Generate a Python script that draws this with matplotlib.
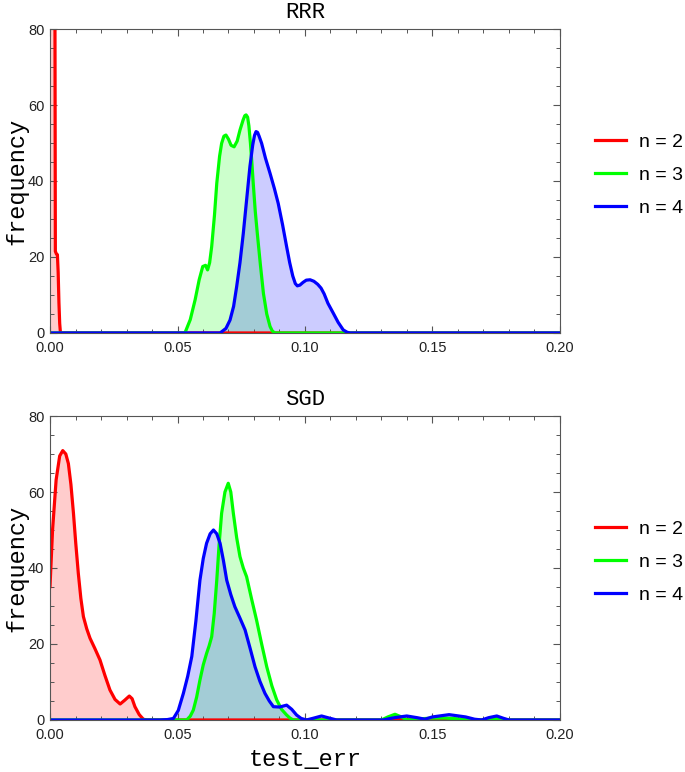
import matplotlib
matplotlib.use("Agg")
import matplotlib.pyplot as plt
from matplotlib.ticker import MultipleLocator

# RRR panel, density curves
rrr_x2 = [0.0, 0.0004, 0.0012, 0.0019, 0.0021, 0.0025, 0.0029, 0.0032, 0.0035, 0.0038, 0.0041, 0.2]
rrr_y2 = [100, 120, 120, 100, 21.5, 20.8, 20.6, 16, 8, 2.5, 0, 0]

rrr_x3 = [0.0, 0.0529, 0.0550, 0.0569, 0.0585, 0.0599, 0.0610, 0.0618, 0.0626, 0.0634, 0.0645,
          0.0654, 0.0665, 0.0673, 0.0682, 0.0690, 0.0700, 0.0710, 0.0722, 0.0734, 0.0745, 0.0757,
          0.0764, 0.0769, 0.0775, 0.0780, 0.0786, 0.0792, 0.0797, 0.0805, 0.0813, 0.0825, 0.0837,
          0.0850, 0.0863, 0.0872, 0.0882, 0.2]
rrr_y3 = [0, 0, 3.5, 8.7, 14, 17.5, 17.8, 16.6, 18.5, 22.7, 31, 39.4, 46.5, 49.9, 51.8, 52.1, 51,
          49.4, 49, 50.5, 53.4, 56, 57.2, 57.4, 56.8, 54.5, 50, 44.5, 39.4, 32, 26.2, 18, 10.4, 5,
          1.7, 0.5, 0, 0]

rrr_x4 = [0.0, 0.0667, 0.0690, 0.0706, 0.0720, 0.0732, 0.0745, 0.0758, 0.0771, 0.0784, 0.0795,
          0.0802, 0.0808, 0.0814, 0.0820, 0.0830, 0.0845, 0.0863, 0.0880, 0.0895, 0.0912, 0.0928,
          0.0940, 0.0952, 0.0962, 0.0970, 0.0980, 0.0992, 0.1005, 0.1020, 0.1035, 0.1050, 0.1063,
          0.1075, 0.1090, 0.1111, 0.1130, 0.1150, 0.1165, 0.1176, 0.2]
rrr_y4 = [0, 0, 1.2, 3.4, 7, 12.2, 18.5, 26.2, 35, 43.8, 49.5, 52, 53, 52.8, 51.8, 49.9, 46, 42,
          38, 34.1, 28.5, 22.7, 18.5, 15, 13, 12.4, 12.6, 13.3, 13.9, 14, 13.6, 12.8, 11.8, 10.3,
          7.8, 5.2, 2.8, 0.8, 0.2, 0, 0]

# SGD panel
sgd_x2 = [0.0, 0.0010, 0.0024, 0.0038, 0.0050, 0.0062, 0.0072, 0.0082, 0.0092, 0.0101, 0.0111,
          0.0121, 0.0131, 0.0144, 0.0157, 0.0176, 0.0196, 0.0215, 0.0235, 0.0255, 0.0275, 0.0293,
          0.0311, 0.0322, 0.0333, 0.0350, 0.0366, 0.0380, 0.1330, 0.1380, 0.1430, 0.2]
sgd_y2 = [35.1, 50, 63.2, 69.5, 70.9, 70, 67.5, 62, 54.4, 46.5, 38.6, 32, 27.2, 24, 21.5, 18.8,
          15.8, 11.8, 7.9, 5.4, 4.2, 5.2, 6.3, 5.6, 3.5, 1.4, 0.2, 0, 0, 0.3, 0, 0]

sgd_x3 = [0.0, 0.0536, 0.0550, 0.0562, 0.0575, 0.0588, 0.0601, 0.0614, 0.0624, 0.0634, 0.0644,
          0.0654, 0.0663, 0.0673, 0.0686, 0.0699, 0.0709, 0.0719, 0.0732, 0.0745, 0.0758, 0.0771,
          0.0790, 0.0810, 0.0830, 0.0850, 0.0870, 0.0889, 0.0908, 0.0928, 0.0941, 0.0954, 0.1300,
          0.1325, 0.1353, 0.1378, 0.1400, 0.1450, 0.1500, 0.1550, 0.1600, 0.1650, 0.1700, 0.1750,
          0.1800, 0.2]
sgd_y3 = [0, 0, 1.0, 2.6, 6, 10.5, 14.5, 17.5, 19.5, 21.9, 28, 36.8, 46, 54.4, 60, 62.3, 60,
          54.4, 48, 43, 40, 37.7, 32, 26.3, 20, 14, 9, 5.3, 2.8, 1.3, 0.5, 0, 0, 0.8, 1.5, 0.8, 0,
          0.3, 0.5, 0.5, 0.3, 0, 0, 0.4, 0, 0]

sgd_x4 = [0.0, 0.0431, 0.0460, 0.0484, 0.0503, 0.0523, 0.0540, 0.0556, 0.0572, 0.0588, 0.0601,
          0.0614, 0.0628, 0.0641, 0.0654, 0.0667, 0.0680, 0.0693, 0.0709, 0.0725, 0.0745, 0.0765,
          0.0785, 0.0804, 0.0823, 0.0843, 0.0860, 0.0876, 0.0900, 0.0928, 0.0948, 0.0967, 0.0985,
          0.1006, 0.1035, 0.1065, 0.1095, 0.1124, 0.1306, 0.1350, 0.1399, 0.1440, 0.1470, 0.1500,
          0.1565, 0.1630, 0.1665, 0.1693, 0.1720, 0.1752, 0.1780, 0.1800, 0.2]
sgd_y4 = [0, 0, 0.1, 0.4, 2.5, 7, 11.5, 16.7, 26, 36.8, 42.5, 46.5, 49, 50, 49, 46.5, 42, 36.8,
          33, 29.8, 26.8, 23.7, 18.8, 14, 10.2, 7, 5, 3.5, 3.4, 3.9, 2.8, 1.3, 0.4, 0, 0.5, 1.05,
          0.5, 0, 0, 0.6, 1.05, 0.6, 0.2, 0.8, 1.4, 0.8, 0.2, 0, 0.6, 1.05, 0.4, 0, 0]

labels = ["n = 2", "n = 3", "n = 4"]
colors = ["#ff0000", "#00ff00", "#0000ff"]

mono = "Liberation Mono"
sans = "Liberation Sans"

fig = plt.figure(figsize=(6.85, 7.72), dpi=100)
ax1 = fig.add_axes([0.073, 0.5687, 0.7445, 0.3937])
ax2 = fig.add_axes([0.073, 0.0674, 0.7445, 0.3937])

panels = [
    (ax1, "RRR", [(rrr_x2, rrr_y2), (rrr_x3, rrr_y3), (rrr_x4, rrr_y4)]),
    (ax2, "SGD", [(sgd_x2, sgd_y2), (sgd_x3, sgd_y3), (sgd_x4, sgd_y4)]),
]

for ax, title, series in panels:
    for (xs, ys), c, lab in zip(series, colors, labels):
        ax.fill_between(xs, ys, 0, color=c, alpha=0.2, linewidth=0)
        ax.plot(xs, ys, color=c, lw=2.3, label=lab, solid_joinstyle="round")
    ax.set_xlim(0, 0.2)
    ax.set_ylim(0, 80)
    ax.xaxis.set_major_locator(MultipleLocator(0.05))
    ax.xaxis.set_minor_locator(MultipleLocator(0.01))
    ax.yaxis.set_major_locator(MultipleLocator(20))
    ax.yaxis.set_minor_locator(MultipleLocator(5))
    ax.xaxis.set_major_formatter(plt.FuncFormatter(lambda v, p: "%.2f" % v))
    ax.tick_params(which="both", direction="in", top=True, right=True,
                   color="#555555", labelsize=10.5, labelcolor="#222222")
    ax.tick_params(axis="x", pad=6)
    ax.tick_params(axis="y", pad=4)
    ax.tick_params(which="major", length=5, width=0.8)
    ax.tick_params(which="minor", length=3, width=0.7)
    for lbl in ax.get_xticklabels() + ax.get_yticklabels():
        lbl.set_fontfamily(sans)
    for sp in ax.spines.values():
        sp.set_color("#555555")
        sp.set_linewidth(0.8)
    ax.set_title(title, fontfamily=mono, fontsize=16, pad=8)
    ax.set_ylabel("frequency", fontfamily=mono, fontsize=17, labelpad=0)
    leg = ax.legend(loc="center left", bbox_to_anchor=(1.035, 0.52), frameon=False,
                    prop={"family": sans, "size": 14}, handlelength=1.6,
                    labelspacing=0.8, handletextpad=0.65)

ax2.set_xlabel("test_err", fontfamily=mono, fontsize=17, labelpad=4)

fig.savefig("out.png", dpi=100)
